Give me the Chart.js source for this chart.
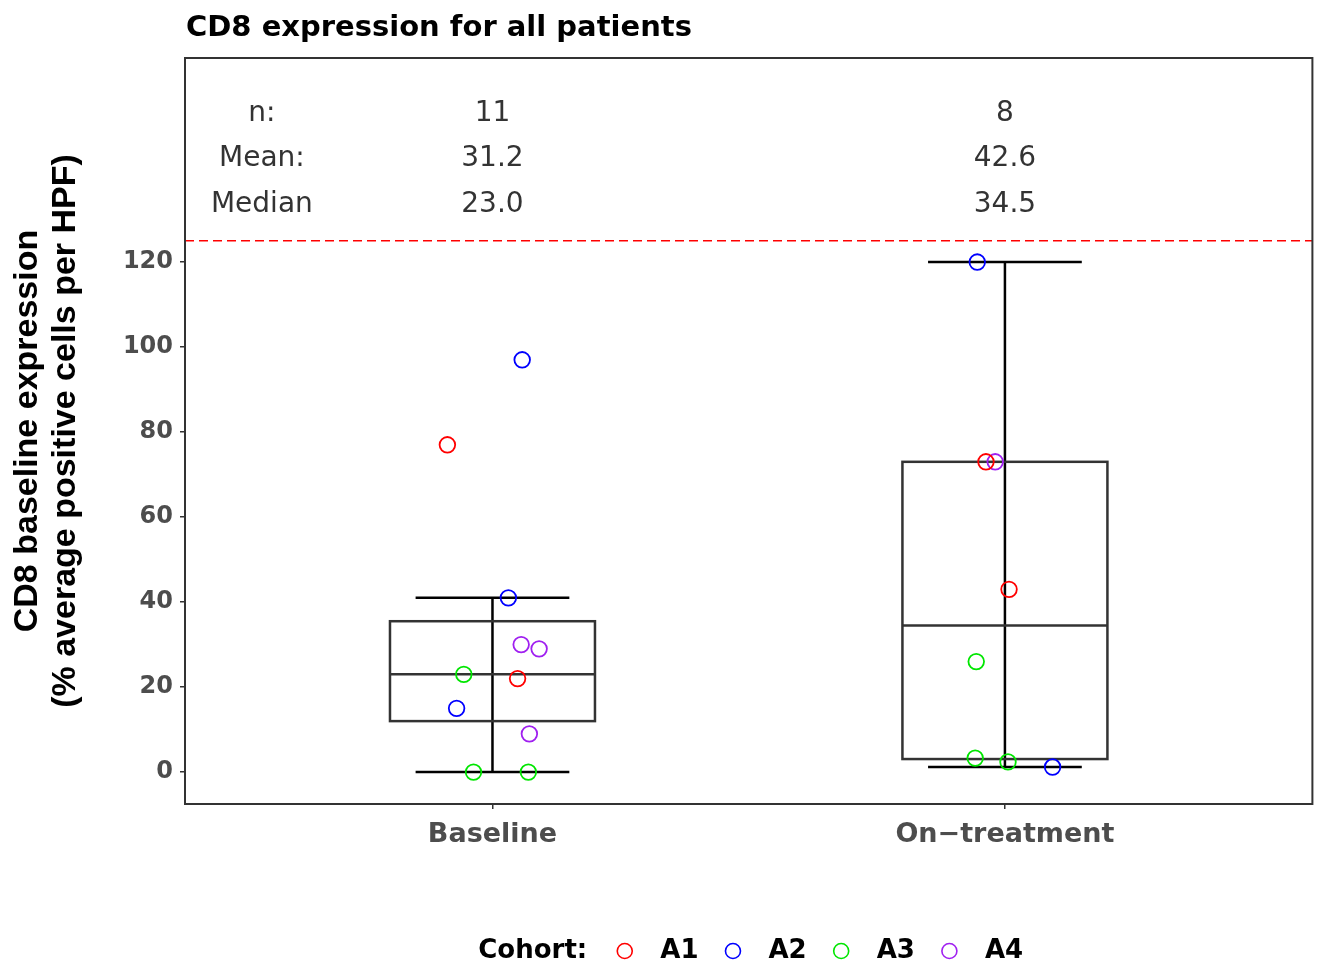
<!DOCTYPE html>
<html><head><meta charset="utf-8">
<script src="https://cdn.jsdelivr.net/npm/chart.js@4"></script>
<style>html,body{margin:0;padding:0;background:#fff;}</style>
</head><body>
<canvas id="c" width="1322" height="967"></canvas>
<script>
// ---- data ----
const categories = ['Baseline', 'On\u2212treatment'];
const cohorts = ['A1', 'A2', 'A3', 'A4'];
const cohortColors = ['#ff0000', '#0000ff', '#00e600', '#a020f0'];

const baselineValues = [77, 22, 97, 41, 15, 23, 0, 0, 30, 29, 9];
const baselineCohort = ['A1', 'A1', 'A2', 'A2', 'A2', 'A3', 'A3', 'A3', 'A4', 'A4', 'A4'];
const baselineJitter = [-0.088, 0.049, 0.058, 0.031, -0.070, -0.056, -0.037, 0.070, 0.056, 0.091, 0.072];

const onValues = [73, 43, 120, 1.2, 26, 3.3, 2.4, 73];
const onCohort = ['A1', 'A1', 'A2', 'A2', 'A3', 'A3', 'A3', 'A4'];
const onJitter = [-0.037, 0.008, -0.054, 0.093, -0.056, -0.058, 0.006, -0.019];

const statLabels = ['n:', 'Mean:', 'Median'];
const statN = ['11', '8'];
const statMean = ['31.2', '42.6'];
const statMedian = ['23.0', '34.5'];

const yTickValues = [0, 20, 40, 60, 80, 100, 120];
const thresholdValue = 125;

// ---- helpers ----
function quantile7(arr, p) {
  const s = arr.slice().sort((a, b) => a - b);
  const h = (s.length - 1) * p;
  const lo = Math.floor(h), hi = Math.ceil(h);
  return s[lo] + (h - lo) * (s[hi] - s[lo]);
}
function boxStats(arr) {
  const q1 = quantile7(arr, 0.25), med = quantile7(arr, 0.5), q3 = quantile7(arr, 0.75);
  const iqr = q3 - q1;
  const inside = arr.filter(v => v >= q1 - 1.5 * iqr && v <= q3 + 1.5 * iqr);
  return { q1, med, q3, lo: Math.min(...inside), hi: Math.max(...inside) };
}
const groups = [
  { values: baselineValues, cohort: baselineCohort, jitter: baselineJitter },
  { values: onValues, cohort: onCohort, jitter: onJitter }
];

const datasets = cohorts.map((c, ci) => {
  const pts = [];
  groups.forEach((g, gi) => {
    g.values.forEach((v, i) => {
      if (g.cohort[i] === c) pts.push({ x: gi + 1 + g.jitter[i], y: v });
    });
  });
  return {
    label: c,
    data: pts,
    pointStyle: 'circle',
    pointRadius: 7.8,
    pointHoverRadius: 7.8,
    borderWidth: 1.8,
    borderColor: cohortColors[ci],
    backgroundColor: 'rgba(0,0,0,0)'
  };
});

const FONT = "'DejaVu Sans'";

const decor = {
  id: 'decor',
  beforeDatasetsDraw(chart) {
    const { ctx, chartArea: a, scales: { x, y } } = chart;
    ctx.save();
    // threshold dashed line
    ctx.strokeStyle = '#ff0000';
    ctx.lineWidth = 1.5;
    ctx.setLineDash([9, 5]);
    ctx.beginPath();
    const ty = y.getPixelForValue(thresholdValue);
    ctx.moveTo(a.left, ty); ctx.lineTo(a.right, ty);
    ctx.stroke();
    ctx.setLineDash([]);
    // box plots
    groups.forEach((g, gi) => {
      const st = boxStats(g.values);
      const c = gi + 1;
      const xc = x.getPixelForValue(c);
      const xl = x.getPixelForValue(c - 0.2), xr = x.getPixelForValue(c + 0.2);
      const cl = x.getPixelForValue(c - 0.15), cr = x.getPixelForValue(c + 0.15);
      ctx.strokeStyle = '#000';
      ctx.lineWidth = 2.5;
      ctx.beginPath();
      ctx.moveTo(xc, y.getPixelForValue(st.lo)); ctx.lineTo(xc, y.getPixelForValue(st.hi));
      ctx.moveTo(cl, y.getPixelForValue(st.lo)); ctx.lineTo(cr, y.getPixelForValue(st.lo));
      ctx.moveTo(cl, y.getPixelForValue(st.hi)); ctx.lineTo(cr, y.getPixelForValue(st.hi));
      ctx.stroke();
      ctx.strokeStyle = '#333';
      const yq1 = y.getPixelForValue(st.q1), yq3 = y.getPixelForValue(st.q3), ym = y.getPixelForValue(st.med);
      ctx.strokeRect(xl, yq3, xr - xl, yq1 - yq3);
      ctx.beginPath();
      ctx.moveTo(xl, ym); ctx.lineTo(xr, ym);
      ctx.stroke();
    });
    ctx.restore();
  },
  afterDraw(chart) {
    const { ctx, chartArea: a, scales: { x, y } } = chart;
    ctx.save();
    // panel border
    ctx.strokeStyle = '#333';
    ctx.lineWidth = 2;
    ctx.strokeRect(a.left, a.top, a.right - a.left, a.bottom - a.top);
    // title
    ctx.fillStyle = '#000';
    ctx.font = `bold 29px ${FONT}`;
    ctx.textAlign = 'left';
    ctx.textBaseline = 'middle';
    ctx.fillText('CD8 expression for all patients', a.left + 1, 28);
    // stats table
    ctx.font = `28px ${FONT}`;
    ctx.fillStyle = '#333';
    ctx.textAlign = 'center';
    const rowVals = [154.8, 144.3, 133.5];
    const rows = [statN, statMean, statMedian];
    rows.forEach((r, ri) => {
      const py = y.getPixelForValue(rowVals[ri]);
      ctx.fillText(statLabels[ri], x.getPixelForValue(0.55), py);
      r.forEach((t, ci) => ctx.fillText(t, x.getPixelForValue(ci + 1), py));
    });
    // legend
    const ly = 951;
    ctx.font = `bold 26px ${FONT}`;
    ctx.fillStyle = '#000';
    const titleW = ctx.measureText('Cohort:').width;
    const labW = cohorts.map(c => ctx.measureText(c).width);
    const r = 7.5;
    const g1 = 30, g2 = 28, g3 = 27;
    let total = titleW;
    cohorts.forEach((c, i) => { total += (i === 0 ? g1 : g3) + 2 * r + g2 + labW[i]; });
    let px = (a.left + a.right) / 2 - total / 2 + 2;
    ctx.textAlign = 'left';
    ctx.fillText('Cohort:', px, ly);
    px += titleW;
    cohorts.forEach((c, i) => {
      px += (i === 0 ? g1 : g3);
      ctx.beginPath();
      ctx.strokeStyle = cohortColors[i];
      ctx.lineWidth = 1.6;
      ctx.arc(px + r, ly, r, 0, Math.PI * 2);
      ctx.stroke();
      px += 2 * r + g2;
      ctx.fillStyle = '#000';
      ctx.fillText(c, px, ly);
      px += labW[i];
    });
    ctx.restore();
  }
};

new Chart(document.getElementById('c'), {
  type: 'scatter',
  data: { datasets },
  plugins: [decor],
  options: {
    responsive: false,
    animation: false,
    devicePixelRatio: 1,
    layout: { padding: { top: 58, right: 7, bottom: 0, left: 0 } },
    plugins: { legend: { display: false }, tooltip: { enabled: false }, title: { display: false } },
    scales: {
      x: {
        type: 'linear',
        min: 0.4, max: 2.6,
        afterBuildTicks: s => { s.ticks = categories.map((c, i) => ({ value: i + 1 })); },
        afterFit: s => { s.height = 163; },
        ticks: {
          autoSkip: false,
          maxRotation: 0,
          padding: 10,
          color: '#4d4d4d',
          font: { family: FONT, size: 27, weight: 'bold' },
          callback: v => categories[Math.round(v) - 1] || ''
        },
        grid: { display: true, drawOnChartArea: false, drawTicks: true, tickLength: 5, color: '#333', lineWidth: 1.5 },
        border: { display: false }
      },
      y: {
        type: 'linear',
        min: -7.5, max: 168,
        afterBuildTicks: s => { s.ticks = yTickValues.map(v => ({ value: v })); },
        afterFit: s => { s.width = 185; },
        ticks: {
          padding: 7,
          color: '#4d4d4d',
          font: { family: FONT, size: 24, weight: 'bold' }
        },
        grid: { display: true, drawOnChartArea: false, drawTicks: true, tickLength: 5, color: '#333', lineWidth: 1.5 },
        border: { display: false },
        title: {
          display: true,
          text: ['CD8 baseline expression', '(% average positive cells per HPF)'],
          color: '#000',
          font: { family: "'Liberation Sans'", size: 34, weight: 'bold', lineHeight: 1.12 },
          padding: { top: 9, bottom: 0 }
        }
      }
    }
  }
});
</script>
</body></html>
